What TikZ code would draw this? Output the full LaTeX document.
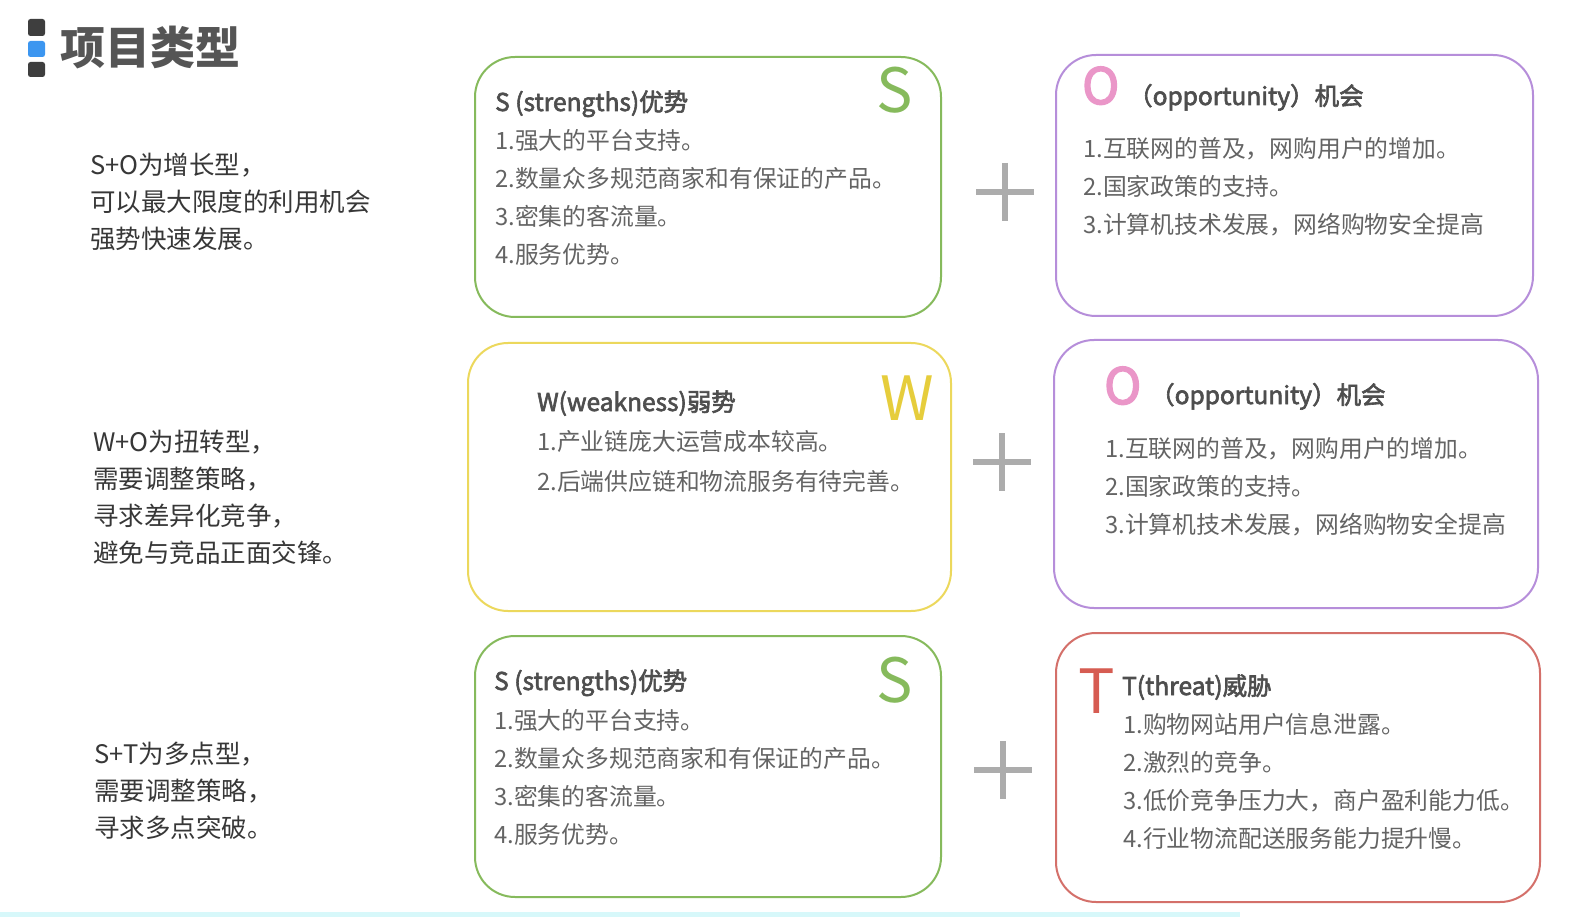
\documentclass[tikz,border=0pt]{standalone}
\usepackage{fontspec}
\setmainfont{Noto Sans CJK SC}
\newfontfamily\headfont{Noto Sans CJK SC}[FakeBold=2.5]
\newfontfamily\bigofont{Noto Sans CJK SC}[FakeBold=3]
\definecolor{sgreen}{RGB}{134,186,92}
\definecolor{opurple}{RGB}{182,142,218}
\definecolor{opink}{RGB}{234,150,200}
\definecolor{wyellow}{RGB}{236,216,92}
\definecolor{wletter}{RGB}{230,205,60}
\definecolor{tred}{RGB}{212,112,106}
\definecolor{tletter}{RGB}{214,92,82}
\definecolor{plusgray}{RGB}{172,172,172}
\definecolor{bodygray}{RGB}{100,100,100}
\definecolor{headgray}{RGB}{78,78,78}
\definecolor{leftgray}{RGB}{55,55,55}
\definecolor{titlegray}{RGB}{85,85,85}
\definecolor{iconblue}{RGB}{60,150,240}
\definecolor{icondark}{RGB}{62,62,62}
\definecolor{barcyan}{RGB}{215,248,250}
\begin{document}
\begin{tikzpicture}[x=1pt,y=-1pt,
  card/.style={draw=#1, line width=2pt, rounded corners=40pt, inner sep=0pt},
  body/.style={anchor=base west, inner sep=0pt, text=bodygray, font=\fontsize{23.8}{23.8}\selectfont},
  head/.style={anchor=base west, inner sep=0pt, text=headgray, font=\headfont\fontsize{24.5}{24.5}\selectfont},
  side/.style={anchor=base west, inner sep=0pt, text=leftgray, font=\fontsize{25.5}{25.5}\selectfont},
  big/.style={anchor=base west, inner sep=0pt, text=#1, font=\fontsize{61}{61}\selectfont},
  bigO/.style={anchor=base west, inner sep=0pt, text=opink, font=\bigofont\fontsize{50}{50}\selectfont},
  plus/.style={draw=plusgray, line width=6.5pt},
  sq/.style={rounded corners=2.5pt}
]
\useasboundingbox (0,0) rectangle (1572,917);
\fill[white] (0,0) rectangle (1572,917);
\fill[barcyan] (0,912) rectangle (1240,917);

% title
\fill[icondark,sq] (28,19) rectangle (45,36);
\fill[iconblue,sq] (28,41) rectangle (45,57);
\fill[icondark,sq] (28,62) rectangle (45,77);
\node[anchor=base west, inner sep=0pt, text=titlegray, font=\fontsize{45}{45}\selectfont\bfseries] (title) at (60,65) {项目类型};

% left texts
\node[side] (l11) at (90,175) {S+O为增长型，};
\node[side] (l12) at (90,212) {可以最大限度的利用机会};
\node[side] (l13) at (90,249) {强势快速发展。};
\node[side] (l21) at (93,451) {W+O为扭转型，};
\node[side] (l22) at (93,488) {需要调整策略，};
\node[side] (l23) at (93,525) {寻求差异化竞争，};
\node[side] (l24) at (93,562) {避免与竞品正面交锋。};
\node[side] (l31) at (94,763) {S+T为多点型，};
\node[side] (l32) at (94,800) {需要调整策略，};
\node[side] (l33) at (94,837) {寻求多点突破。};

% cards
\node[card=sgreen, minimum width=466pt, minimum height=260pt] (s1) at (708,187) {};
\node[card=opurple, minimum width=477pt, minimum height=261pt] (o1) at (1294.5,185.5) {};
\node[card=wyellow, minimum width=483pt, minimum height=268pt] (w) at (709.5,477) {};
\node[card=opurple, minimum width=484pt, minimum height=268pt] (o2) at (1296,474) {};
\node[card=sgreen, minimum width=466pt, minimum height=261pt] (s2) at (708,766.5) {};
\node[card=tred, minimum width=484pt, minimum height=269pt] (t) at (1298,767.5) {};

% plus signs
\draw[plus] (976,192) -- (1034,192);
\draw[plus] (1005,163) -- (1005,221);
\draw[plus] (973,462) -- (1031,462);
\draw[plus] (1002,433) -- (1002,491);
\draw[plus] (974,770) -- (1032,770);
\draw[plus] (1003,741) -- (1003,799);

% S top
\node[big=sgreen] (bs1) at (876,113) {S};
\node[head] (hs1) at (495,111) {S (strengths)优势};
\node[body] (s1a) at (495,150) {1.强大的平台支持。};
\node[body] (s1b) at (495,188) {2.数量众多规范商家和有保证的产品。};
\node[body] (s1c) at (495,226) {3.密集的客流量。};
\node[body] (s1d) at (495,264) {4.服务优势。};

% O top
\node[bigO] (bo1) at (1082,104) {O};
\node[head] (ho1) at (1128,105) {（opportunity）机会};
\node[body] (o1a) at (1083,158) {1.互联网的普及，网购用户的增加。};
\node[body] (o1b) at (1083,196) {2.国家政策的支持。};
\node[body] (o1c) at (1083,234) {3.计算机技术发展，网络购物安全提高};

% W
\node[big=wletter] (bw) at (880,420) {W};
\node[head] (hw) at (537,411) {W(weakness)弱势};
\node[body] (wa) at (537,450) {1.产业链庞大运营成本较高。};
\node[body] (wb) at (537,490) {2.后端供应链和物流服务有待完善。};

% O mid
\node[bigO] (bo2) at (1104,404) {O};
\node[head] (ho2) at (1150,404) {（opportunity）机会};
\node[body] (o2a) at (1105,457) {1.互联网的普及，网购用户的增加。};
\node[body] (o2b) at (1105,495) {2.国家政策的支持。};
\node[body] (o2c) at (1105,533) {3.计算机技术发展，网络购物安全提高};

% S bottom
\node[big=sgreen] (bs2) at (876,702) {S};
\node[head] (hs2) at (494,690) {S (strengths)优势};
\node[body] (s2a) at (494,729) {1.强大的平台支持。};
\node[body] (s2b) at (494,767) {2.数量众多规范商家和有保证的产品。};
\node[body] (s2c) at (494,805) {3.密集的客流量。};
\node[body] (s2d) at (494,843) {4.服务优势。};

% T
\node[big=tletter] (bt) at (1078,713) {T};
\node[head] (ht) at (1122,695) {T(threat)威胁};
\node[body] (ta) at (1123,733) {1.购物网站用户信息泄露。};
\node[body] (tb) at (1123,771) {2.激烈的竞争。};
\node[body] (tc) at (1123,809) {3.低价竞争压力大，商户盈利能力低。};
\node[body] (td) at (1123,847) {4.行业物流配送服务能力提升慢。};
\end{tikzpicture}
\end{document}
